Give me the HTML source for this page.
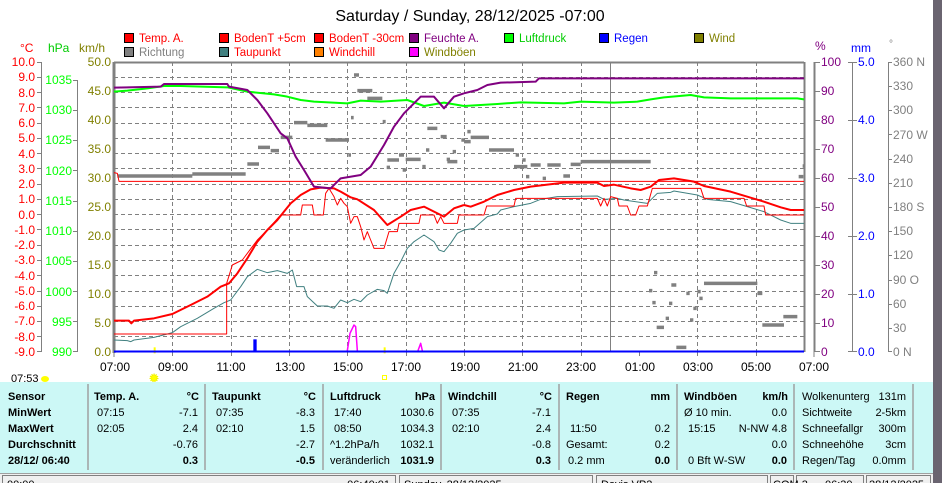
<!DOCTYPE html>
<html><head><meta charset="utf-8"><style>
html,body{margin:0;padding:0;width:942px;height:483px;overflow:hidden;background:#fff;font-family:"Liberation Sans",sans-serif}
svg{position:absolute;left:0;top:0}
</style></head><body>
<svg width="942" height="483" viewBox="0 0 942 483" xmlns="http://www.w3.org/2000/svg" font-family="Liberation Sans, sans-serif">
<rect x="0" y="0" width="942" height="483" fill="#fff"/>
<rect x="933" y="0" width="9" height="483" fill="#6a6470"/>
<text x="470" y="21" font-size="16" text-anchor="middle" fill="#000">Saturday / Sunday, 28/12/2025  -07:00</text>
<g font-size="11.5">
<rect x="124.5" y="33.5" width="9" height="9" fill="#f00" stroke="#000"/><text x="139" y="42" fill="#f00">Temp. A.</text>
<rect x="219.5" y="33.5" width="9" height="9" fill="#f00" stroke="#000"/><text x="234" y="42" fill="#f00">BodenT +5cm</text>
<rect x="314.5" y="33.5" width="9" height="9" fill="#f00" stroke="#000"/><text x="329" y="42" fill="#f00">BodenT -30cm</text>
<rect x="409.5" y="33.5" width="9" height="9" fill="#800080" stroke="#000"/><text x="424" y="42" fill="#800080">Feuchte A.</text>
<rect x="504.5" y="33.5" width="9" height="9" fill="#0f0" stroke="#000"/><text x="519" y="42" fill="#0c0">Luftdruck</text>
<rect x="599.5" y="33.5" width="9" height="9" fill="#00f" stroke="#000"/><text x="614" y="42" fill="#00f">Regen</text>
<rect x="694.5" y="33.5" width="9" height="9" fill="#808000" stroke="#000"/><text x="709" y="42" fill="#808000">Wind</text>
<rect x="124.5" y="47.5" width="9" height="9" fill="#808080" stroke="#000"/><text x="139" y="56" fill="#808080">Richtung</text>
<rect x="219.5" y="47.5" width="9" height="9" fill="#408080" stroke="#000"/><text x="234" y="56" fill="#f00">Taupunkt</text>
<rect x="314.5" y="47.5" width="9" height="9" fill="#ff8000" stroke="#000"/><text x="329" y="56" fill="#f00">Windchill</text>
<rect x="409.5" y="47.5" width="9" height="9" fill="#f0f" stroke="#000"/><text x="424" y="56" fill="#808000">Windböen</text>
</g>
<g font-size="12">
<text x="20" y="52" fill="#f00">°C</text><text x="48" y="52" fill="#0c0">hPa</text><text x="79" y="52" fill="#808000">km/h</text>
<text x="815" y="50" fill="#800080">%</text><text x="851" y="52" fill="#00f">mm</text><text x="889" y="47" fill="#808080" font-size="10">°</text>
</g>
<g stroke="#808080" stroke-dasharray="4,3" stroke-width="1">
<path d="M114 77.5H804M114 92.5H804M114 107.5H804M114 123.5H804M114 138.5H804M114 153.5H804M114 168.5H804M114 184.5H804M114 199.5H804M114 214.5H804M114 229.5H804M114 245.5H804M114 260.5H804M114 275.5H804M114 291.5H804M114 306.5H804M114 321.5H804M114 336.5H804"/>
<path d="M172.5 62V352M231.5 62V352M289.5 62V352M347.5 62V352M406.5 62V352M464.5 62V352M522.5 62V352M581.5 62V352M697.5 62V352M756.5 62V352"/>
</g>
<path d="M610.5 62V352" stroke="#808080" stroke-width="1"/>
<path d="M114 62.5H804M804.5 62V352M814.5 62V352" stroke="#808080" stroke-width="2"/>
<path d="M114 62V353" stroke="#808080" stroke-width="3"/>
<g stroke="#808080" stroke-width="1">
<path d="M41.5 62V352M77.5 80V352M852.5 62V352M888.5 62V352"/>
</g>
<g font-size="12" text-anchor="end" fill="#f00">
<text x="35" y="66">10.0</text><text x="35" y="81">9.0</text><text x="35" y="97">8.0</text><text x="35" y="112">7.0</text><text x="35" y="127">6.0</text><text x="35" y="142">5.0</text><text x="35" y="158">4.0</text><text x="35" y="173">3.0</text><text x="35" y="188">2.0</text><text x="35" y="203">1.0</text><text x="35" y="219">0.0</text><text x="35" y="234">-1.0</text><text x="35" y="249">-2.0</text><text x="35" y="264">-3.0</text><text x="35" y="280">-4.0</text><text x="35" y="295">-5.0</text><text x="35" y="310">-6.0</text><text x="35" y="325">-7.0</text><text x="35" y="341">-8.0</text><text x="35" y="356">-9.0</text>
</g>
<path d="M37 62.5h4M37 77.5h4M37 92.5h4M37 107.5h4M37 123.5h4M37 138.5h4M37 153.5h4M37 168.5h4M37 184.5h4M37 199.5h4M37 214.5h4M37 229.5h4M37 245.5h4M37 260.5h4M37 275.5h4M37 291.5h4M37 306.5h4M37 321.5h4M37 336.5h4M37 351.5h4" stroke="#808080"/>
<g font-size="12" text-anchor="end" fill="#0f0">
<text x="72" y="84">1035</text><text x="72" y="114">1030</text><text x="72" y="144">1025</text><text x="72" y="175">1020</text><text x="72" y="205">1015</text><text x="72" y="235">1010</text><text x="72" y="265">1005</text><text x="72" y="296">1000</text><text x="72" y="326">995</text><text x="72" y="356">990</text>
</g>
<path d="M73 80.5h4M73 110.5h4M73 140.5h4M73 170.5h4M73 201.5h4M73 231.5h4M73 261.5h4M73 291.5h4M73 321.5h4M73 351.5h4" stroke="#808080"/>
<g font-size="12" text-anchor="end" fill="#808000">
<text x="111" y="66">50.0</text><text x="111" y="95">45.0</text><text x="111" y="124">40.0</text><text x="111" y="153">35.0</text><text x="111" y="182">30.0</text><text x="111" y="211">25.0</text><text x="111" y="240">20.0</text><text x="111" y="269">15.0</text><text x="111" y="298">10.0</text><text x="111" y="327">5.0</text><text x="111" y="356">0.0</text>
</g>
<g font-size="12" fill="#800080">
<text x="821" y="66">100</text><text x="821" y="95">90</text><text x="821" y="124">80</text><text x="821" y="153">70</text><text x="821" y="182">60</text><text x="821" y="211">50</text><text x="821" y="240">40</text><text x="821" y="269">30</text><text x="821" y="298">20</text><text x="821" y="327">10</text><text x="821" y="356">0</text>
</g>
<path d="M814 62.5h6M814 91.5h6M814 120.5h6M814 149.5h6M814 178.5h6M814 207.5h6M814 236.5h6M814 265.5h6M814 294.5h6M814 323.5h6M814 351.5h6" stroke="#808080"/>
<g font-size="12" fill="#00f">
<text x="858" y="66">5.0</text><text x="858" y="124">4.0</text><text x="858" y="182">3.0</text><text x="858" y="240">2.0</text><text x="858" y="298">1.0</text><text x="858" y="356">0.0</text>
</g>
<path d="M848 62.5h9M848 120.5h9M848 178.5h9M848 236.5h9M848 294.5h9M848 351.5h9" stroke="#808080"/>
<g font-size="12" fill="#808080">
<text x="893" y="66">360 N</text><text x="893" y="90">330</text><text x="893" y="114">300</text><text x="893" y="139">270 W</text><text x="893" y="163">240</text><text x="893" y="187">210</text><text x="893" y="211">180 S</text><text x="893" y="235">150</text><text x="893" y="259">120</text><text x="893" y="284">90  O</text><text x="893" y="308">60</text><text x="893" y="332">30</text><text x="893" y="356">0   N</text>
</g>
<path d="M888 62.5h4M888 86.5h4M888 110.5h4M888 134.5h4M888 159.5h4M888 183.5h4M888 207.5h4M888 231.5h4M888 255.5h4M888 280.5h4M888 304.5h4M888 328.5h4M888 351.5h4" stroke="#808080"/>
<g font-size="12" text-anchor="middle" fill="#000">
<text x="115" y="371">07:00</text><text x="173" y="371">09:00</text><text x="231" y="371">11:00</text><text x="290" y="371">13:00</text><text x="348" y="371">15:00</text><text x="406" y="371">17:00</text><text x="465" y="371">19:00</text><text x="523" y="371">21:00</text><text x="581" y="371">23:00</text><text x="640" y="371">01:00</text><text x="698" y="371">03:00</text><text x="756" y="371">05:00</text><text x="814" y="371">07:00</text>
</g>
<path d="M114 352v5M172.5 352v4M231.5 352v4M289.5 352v4M347.5 352v4M406.5 352v4M464.5 352v4M522.5 352v4M581.5 352v4M639.5 352v4M697.5 352v4M756.5 352v4M814 352v5" stroke="#808080"/>
<text x="11" y="382" font-size="11" fill="#000">07:53</text>
<ellipse cx="45" cy="379" rx="4" ry="3" fill="#ff0"/>
<circle cx="154" cy="378" r="3.5" fill="#ff0" stroke="#ee0" stroke-width="2" stroke-dasharray="1,1"/>
<rect x="382.5" y="375.5" width="4" height="4" fill="none" stroke="#ff0"/>
<g transform="translate(114,60) scale(0.33333)" fill="none" stroke-linejoin="round">
<path d="M10 348H235M235 342H395M400 312H435M432 262H468M470 272H495M500 232H535M540 188H580M580 196H640M635 240H705M720 45H735M730 92H775M760 115H805M703 285H711M711 173H719M806 185H815M820 300H855M855 285H870M875 298H920M925 320H935M866 330H876M940 205H970M980 230H998M1000 305H1030M936 270H946M1016 275H1026M1042 240H1050M818 322H828M998 298H1008" stroke="#808080" style="stroke-width:3.5px" vector-effect="non-scaling-stroke"/>
<path d="M0 338L10 340L15 364H1050" stroke="#f00" style="stroke-width:1px" vector-effect="non-scaling-stroke"/>
<path d="M0 840L40 842L50 845L60 840L120 832L160 822L175 818L200 800L250 775L300 745L330 728L350 720L380 680L400 650L430 628L460 638L490 632L520 640L535 630L548 680L570 680L580 710L610 738L640 738L660 745L680 720L700 728L720 718L740 725L760 705L790 688L810 692L820 700L840 640L860 605L880 565L900 545L930 525L960 545L975 570L990 575L1010 550L1030 520L1050 510" stroke="#408080" style="stroke-width:1px" vector-effect="non-scaling-stroke"/>
<path d="M0 822H338V670L355 615L385 600L430 540L460 510L500 465H560L565 435H595L600 465H628L635 400L645 385L660 410L670 435L680 415L690 430L700 440L710 490L720 470H730L740 500L750 540L760 515L770 540L780 565H810L825 515H850L855 490H915L920 465H960L970 490L980 470L990 490H1030L1035 465H1050" stroke="#f00" style="stroke-width:1px" vector-effect="non-scaling-stroke"/>
<path d="M0 782H45L52 790L60 782L120 775L175 762L230 735L280 710L320 680L345 670L370 640L400 595L430 545L460 510L490 480L510 455L530 430L560 405L590 388L620 383L660 385L680 395L710 412L730 418L780 450L820 495L860 470L890 450L930 440L960 455L990 470L1020 445L1050 435" stroke="#f00" style="stroke-width:2px" vector-effect="non-scaling-stroke"/>
<path d="M0 95L40 92L100 85L150 78L200 78L340 82L400 95L480 103L520 110L560 120L600 125L700 130L740 122L800 125L880 120L930 138L990 128L1050 138" stroke="#0f0" style="stroke-width:2px" vector-effect="non-scaling-stroke"/>
<path d="M0 83L140 80L150 72L340 72L345 80L400 90L430 120L460 160L500 220L520 235L545 290L570 330L600 380L650 385L680 355L740 345L770 320L810 255L840 200L870 160L900 130L920 110L960 110L990 145L1020 110L1050 100" stroke="#800080" style="stroke-width:2px" vector-effect="non-scaling-stroke"/>
<path d="M700 872L708 820L720 795L725 800L730 872M912 872L920 850L925 872" stroke="#f0f" style="stroke-width:1.5px" vector-effect="non-scaling-stroke"/>
<rect x="418" y="838" width="10" height="37" fill="#00f"/>
<rect x="119" y="862" width="6" height="18" fill="#ff0"/>
<rect x="809" y="862" width="6" height="18" fill="#ff0"/>
</g>
<g transform="translate(464,60) scale(0.33333)" fill="none" stroke-linejoin="round">
<path d="M0 245H20M10 215H20M20 232H75M75 270H150M155 285H165M150 320H190M175 300H185M186 350H196M200 315H230M236 355H246M250 315H290M298 348H318M320 313H350M350 305H560M570 638H580M555 692H565M565 728H575M578 802H600M605 775H615M622 675H637M615 730H625M637 862H667M667 700H677M678 780H688M688 745H698M706 715H716M720 670H880M880 700H895M895 795H960M958 770H1000M1004 350H1018M1016 318H1024M700 695H710" stroke="#808080" style="stroke-width:3.5px" vector-effect="non-scaling-stroke"/>
<path d="M0 364H1020" stroke="#f00" style="stroke-width:1px" vector-effect="non-scaling-stroke"/>
<path d="M0 510L30 505L70 470L100 462L110 450L150 440L200 430L230 418L280 410L400 408L420 418L460 415L480 420L550 430L580 400L620 397L630 393L700 405L730 418L800 425L850 440L900 455L950 480L980 490L1020 490" stroke="#408080" style="stroke-width:1px" vector-effect="non-scaling-stroke"/>
<path d="M0 465H60L68 438H150L155 415H400L410 438L420 415L430 438L440 410L460 415L465 438H490L500 465H515L525 438H550L565 385H710L720 415H840L848 438H900L905 465H1020" stroke="#f00" style="stroke-width:1px" vector-effect="non-scaling-stroke"/>
<path d="M0 435L20 440L60 425L100 405L150 390L200 380L300 368L400 368L420 378L450 374L500 385L530 390L560 380L585 360L630 355L690 365L720 378L800 395L850 410L900 425L950 442L980 450L1020 450" stroke="#f00" style="stroke-width:2px" vector-effect="non-scaling-stroke"/>
<path d="M0 138L100 132L170 127L300 130L350 125L450 128L520 125L560 118L600 112L680 105L720 112L800 115L1000 115L1020 118" stroke="#0f0" style="stroke-width:2px" vector-effect="non-scaling-stroke"/>
<path d="M0 100L40 90L70 75L110 68L215 65L225 55L1020 55" stroke="#800080" style="stroke-width:2px" vector-effect="non-scaling-stroke"/>
</g>
<path d="M114 351.5H804" stroke="#00f" stroke-width="2"/>
<rect x="0" y="382" width="933" height="91" fill="#ccf8f6"/>
<g stroke="#a0a0a0" stroke-width="1.5">
<path d="M88 384V470M205 384V470M323 384V470M441 384V470M559 384V470M677 384V470M794 384V470M913 384V470"/>
</g>
<g font-size="11" fill="#000">
<g font-weight="bold"><text x="8" y="400">Sensor</text><text x="8" y="416">MinWert</text><text x="8" y="432">MaxWert</text><text x="8" y="448">Durchschnitt</text><text x="8" y="464">28/12/ 06:40</text></g>
<text x="94" y="400" font-weight="bold">Temp. A.</text><text x="199" y="400" font-weight="bold" text-anchor="end">°C</text>
<text x="97" y="416">07:15</text><text x="198" y="416" text-anchor="end">-7.1</text>
<text x="97" y="432">02:05</text><text x="198" y="432" text-anchor="end">2.4</text>
<text x="198" y="448" text-anchor="end">-0.76</text><text x="198" y="464" text-anchor="end" font-weight="bold">0.3</text>
<text x="212" y="400" font-weight="bold">Taupunkt</text><text x="316" y="400" font-weight="bold" text-anchor="end">°C</text>
<text x="216" y="416">07:35</text><text x="315" y="416" text-anchor="end">-8.3</text>
<text x="216" y="432">02:10</text><text x="315" y="432" text-anchor="end">1.5</text>
<text x="315" y="448" text-anchor="end">-2.7</text><text x="315" y="464" text-anchor="end" font-weight="bold">-0.5</text>
<text x="330" y="400" font-weight="bold">Luftdruck</text><text x="435" y="400" font-weight="bold" text-anchor="end">hPa</text>
<text x="334" y="416">17:40</text><text x="434" y="416" text-anchor="end">1030.6</text>
<text x="334" y="432">08:50</text><text x="434" y="432" text-anchor="end">1034.3</text>
<text x="330" y="448">^1.2hPa/h</text><text x="434" y="448" text-anchor="end">1032.1</text>
<text x="330" y="464">veränderlich</text><text x="434" y="464" text-anchor="end" font-weight="bold">1031.9</text>
<text x="448" y="400" font-weight="bold">Windchill</text><text x="552" y="400" font-weight="bold" text-anchor="end">°C</text>
<text x="452" y="416">07:35</text><text x="551" y="416" text-anchor="end">-7.1</text>
<text x="452" y="432">02:10</text><text x="551" y="432" text-anchor="end">2.4</text>
<text x="551" y="448" text-anchor="end">-0.8</text><text x="551" y="464" text-anchor="end" font-weight="bold">0.3</text>
<text x="566" y="400" font-weight="bold">Regen</text><text x="670" y="400" font-weight="bold" text-anchor="end">mm</text>
<text x="570" y="432">11:50</text><text x="670" y="432" text-anchor="end">0.2</text>
<text x="566" y="448">Gesamt:</text><text x="670" y="448" text-anchor="end">0.2</text>
<text x="568" y="464">0.2 mm</text><text x="670" y="464" text-anchor="end" font-weight="bold">0.0</text>
<text x="684" y="400" font-weight="bold">Windböen</text><text x="788" y="400" font-weight="bold" text-anchor="end">km/h</text>
<text x="684" y="416">Ø 10 min.</text><text x="787" y="416" text-anchor="end">0.0</text>
<text x="688" y="432">15:15</text><text x="787" y="432" text-anchor="end">N-NW 4.8</text>
<text x="787" y="448" text-anchor="end">0.0</text>
<text x="688" y="464">0 Bft W-SW</text><text x="787" y="464" text-anchor="end" font-weight="bold">0.0</text>
<text x="802" y="400">Wolkenunterg</text><text x="906" y="400" text-anchor="end">131m</text>
<text x="802" y="416">Sichtweite</text><text x="906" y="416" text-anchor="end">2-5km</text>
<text x="802" y="432">Schneefallgr</text><text x="906" y="432" text-anchor="end">300m</text>
<text x="802" y="448">Schneehöhe</text><text x="906" y="448" text-anchor="end">3cm</text>
<text x="802" y="464">Regen/Tag</text><text x="906" y="464" text-anchor="end">0.0mm</text>
</g>
<rect x="0" y="473" width="933" height="10" fill="#f0f0f0"/>
<path d="M0 473.5H933" stroke="#a0a0a0"/>
<g fill="none" stroke="#808080">
<rect x="2.5" y="475.5" width="393" height="10"/><rect x="399.5" y="475.5" width="193" height="10"/><rect x="596.5" y="475.5" width="171" height="10"/><rect x="770.5" y="475.5" width="23" height="10"/><rect x="796.5" y="475.5" width="67" height="10"/><rect x="866.5" y="475.5" width="64" height="10"/>
</g>
<g font-size="11" fill="#000">
<text x="7" y="488">00:00</text><text x="390" y="488" text-anchor="end">06:40:01</text><text x="404" y="488">Sunday, 28/12/2025</text><text x="601" y="488">Davis VP2 ...</text><text x="773" y="488">COM 3</text><text x="825" y="488">06:30</text><text x="869" y="488">28/12/2025</text>
</g>
</svg>
</body></html>
